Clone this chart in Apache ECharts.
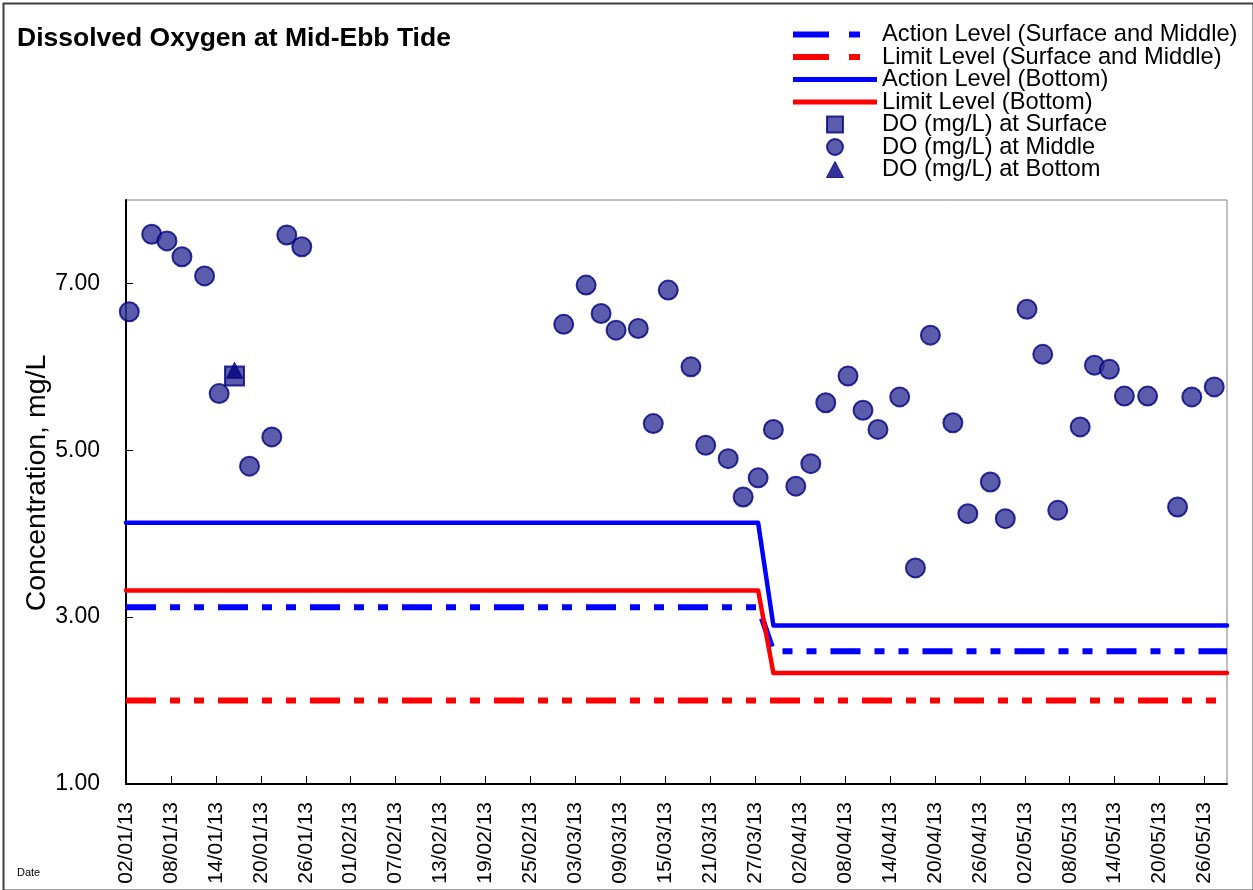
<!DOCTYPE html>
<html>
<head>
<meta charset="utf-8">
<script src="https://cdn.jsdelivr.net/npm/echarts@6/dist/echarts.min.js"></script>
<style>
  html, body { margin: 0; padding: 0; background: #fff; }
  #chart { width: 1253px; height: 890px; }
</style>
</head>
<body>
<div id="chart"></div>
<script>
// Sampling times (dd/mm/yy hh:mm) and dissolved oxygen readings, mg/L
const middleTimes = [
  '02/01/13 10:30', '05/01/13 10:20', '07/01/13 11:15', '09/01/13 11:15', '12/01/13 11:45',
  '14/01/13 10:30', '18/01/13 11:45', '21/01/13 11:15', '23/01/13 11:15', '25/01/13 11:15',
  '01/03/13 10:30', '04/03/13 10:20', '06/03/13 10:20', '08/03/13 10:20', '11/03/13 09:35',
  '13/03/13 09:35', '15/03/13 09:35', '18/03/13 10:20', '20/03/13 09:35', '23/03/13 09:35',
  '25/03/13 09:35', '27/03/13 09:35', '29/03/13 10:30', '01/04/13 10:20', '03/04/13 10:20',
  '05/04/13 10:20', '08/04/13 09:35', '10/04/13 09:35', '12/04/13 09:35', '15/04/13 07:10',
  '17/04/13 09:35', '19/04/13 09:35', '22/04/13 09:35', '24/04/13 09:35', '27/04/13 09:35',
  '29/04/13 09:35', '02/05/13 07:10', '04/05/13 09:35', '06/05/13 09:35', '09/05/13 09:35',
  '11/05/13 07:10', '13/05/13 07:10', '15/05/13 07:10', '18/05/13 09:35', '22/05/13 09:35',
  '24/05/13 07:10', '27/05/13 07:10'
];
const middleDO = [
  6.66, 7.59, 7.51, 7.32, 7.09,
  5.68, 4.81, 5.16, 7.58, 7.44,
  6.51, 6.98, 6.64, 6.44, 6.46,
  5.32, 6.92, 6.00, 5.06, 4.90,
  4.44, 4.67, 5.25, 4.57, 4.84,
  5.57, 5.89, 5.48, 5.25, 5.64,
  3.59, 6.38, 5.33, 4.24, 4.62,
  4.18, 6.69, 6.15, 4.28, 5.28,
  6.02, 5.97, 5.65, 5.65, 4.32,
  5.64, 5.76
];
const surfaceTimes = ['16/01/13 11:45'];
const surfaceDO = [5.89];
const bottomTimes = ['16/01/13 11:45'];
const bottomDO = [5.96];

// Compliance levels; they change between the 27/03 and 29/03 surveys
const levelTimes = ['02/01/13 00:00', '27/03/13 09:35', '29/03/13 10:30', '29/05/13 00:00'];
const actionSurfMid = [3.12, 3.12, 2.59, 2.59];
const limitSurfMid = [2.00, 2.00, 2.00, 2.00];
const actionBottom = [4.13, 4.13, 2.90, 2.90];
const limitBottom = [3.32, 3.32, 2.33, 2.33];

// Axis ticks
const yTicks = [1, 3, 5, 7];
const xTickDays = [0, 6, 12, 18, 24, 30, 36, 42, 48, 54, 60, 66, 72, 78, 84, 90, 96, 102, 108, 114, 120, 126, 132, 138, 144];

const FONT = "'Liberation Sans', Arial, sans-serif";
const DAY_MS = 86400000;
const ORIGIN = Date.UTC(2013, 0, 2);

// 'dd/mm/yy hh:mm' -> days since 02/01/2013
function dayOf(s) {
  const [d, t] = s.split(' ');
  const [dd, mm, yy] = d.split('/').map(Number);
  const [hh, mi] = (t || '00:00').split(':').map(Number);
  return (Date.UTC(2000 + yy, mm - 1, dd, hh, mi) - ORIGIN) / DAY_MS;
}
function fmtDay(v) {
  const dt = new Date(ORIGIN + Math.round(v) * DAY_MS);
  const p = n => String(n).padStart(2, '0');
  return p(dt.getUTCDate()) + '/' + p(dt.getUTCMonth() + 1) + '/' + p(dt.getUTCFullYear() % 100);
}
const pairs = (times, vals) => times.map((t, i) => [dayOf(t), vals[i]]);

const dashDot = [30, 14, 10, 14, 10, 14];
const legendDash = [36, 20, 11, 100];
const markerFill = '#333399';
const markerEdge = '#000080';

// legend entries for the level lines: line sample only, no marker in the middle
const lineEntry = (name, color, width, type) => ({
  name,
  itemStyle: { opacity: 0 },
  lineStyle: { color, width, type, cap: 'butt' }
});
// marker icons kept square inside the wide legend slot (zero-length anchors fix the 84x16 box)
const BOX = 'path://M0,0L0,0M84,16L84,16';
const squareIcon = BOX + 'M34,0h16v16h-16Z';
const triangleIcon = BOX + 'M42,0L50.5,16L33.5,16Z';

const chart = echarts.init(document.getElementById('chart'), null, { renderer: 'canvas' });

chart.setOption({
  backgroundColor: '#ffffff',
  animation: false,
  title: {
    text: 'Dissolved Oxygen at Mid-Ebb Tide',
    left: 17, top: 24, padding: 0,
    textStyle: { fontFamily: FONT, fontSize: 26.5, fontWeight: 'bold', color: '#000', lineHeight: 30 }
  },
  legend: {
    orient: 'vertical',
    left: 790, top: 22.5, padding: 0,
    itemWidth: 84, itemHeight: 16, itemGap: -1.5,
    selectedMode: false,
    textStyle: { fontFamily: FONT, fontSize: 23.7, color: '#000', lineHeight: 22.2 },
    data: [
      lineEntry('Action Level (Surface and Middle)', '#0000ff', 6, legendDash),
      lineEntry('Limit Level (Surface and Middle)', '#ff0000', 6, legendDash),
      lineEntry('Action Level (Bottom)', '#0000ff', 5, 'solid'),
      lineEntry('Limit Level (Bottom)', '#ff0000', 5, 'solid'),
      { name: 'DO (mg/L) at Surface', icon: squareIcon, itemStyle: { color: markerFill, borderColor: markerEdge, borderWidth: 2 } },
      { name: 'DO (mg/L) at Middle', icon: 'circle', itemStyle: { color: markerFill, borderColor: markerEdge, borderWidth: 2 } },
      { name: 'DO (mg/L) at Bottom', icon: triangleIcon, itemStyle: { color: markerEdge, borderColor: markerEdge, borderWidth: 1 } }
    ]
  },
  grid: {
    left: 126, right: 26, top: 200, bottom: 106,
    show: true, borderColor: '#808080', borderWidth: 1, backgroundColor: '#fff'
  },
  xAxis: {
    type: 'value', min: 0, max: 147,
    axisLine: { show: true, onZero: false, lineStyle: { color: '#000', width: 2 } },
    axisTick: { show: true, inside: true, length: 8, lineStyle: { color: '#000', width: 1 }, customValues: xTickDays },
    axisLabel: {
      customValues: xTickDays, rotate: 90, margin: 18,
      fontFamily: FONT, fontSize: 21, color: '#000',
      formatter: v => fmtDay(v)
    },
    splitLine: { show: false }
  },
  yAxis: {
    type: 'value', min: 1, max: 8,
    axisLine: { show: true, lineStyle: { color: '#000', width: 2 } },
    axisTick: { show: true, inside: true, length: 7, lineStyle: { color: '#000', width: 1 }, customValues: yTicks },
    axisLabel: {
      customValues: yTicks, margin: 26,
      fontFamily: FONT, fontSize: 23, color: '#000',
      formatter: v => v.toFixed(2)
    },
    splitLine: { show: false }
  },
  graphic: [
    { type: 'rect', left: 1, top: 1, z: -1, silent: true,
      shape: { width: 1250, height: 887 },
      style: { fill: 'none', stroke: '#404040', lineWidth: 2 } },
    { type: 'text', x: 37, y: 483, rotation: Math.PI / 2, silent: true,
      style: { text: 'Concentration, mg/L', font: '28.5px ' + FONT, fill: '#000', align: 'center', verticalAlign: 'middle' } },
    { type: 'text', x: 17, y: 873, silent: true,
      style: { text: 'Date', font: '11px ' + FONT, fill: '#000', align: 'left', verticalAlign: 'middle' } }
  ],
  series: [
    { name: 'Action Level (Surface and Middle)', type: 'line', symbol: 'none',
      data: pairs(levelTimes, actionSurfMid),
      lineStyle: { color: '#0000ff', width: 6, type: dashDot, cap: 'butt' }, itemStyle: { color: '#0000ff' } },
    { name: 'Limit Level (Surface and Middle)', type: 'line', symbol: 'none',
      data: pairs(levelTimes, limitSurfMid),
      lineStyle: { color: '#ff0000', width: 6, type: dashDot, cap: 'butt' }, itemStyle: { color: '#ff0000' } },
    { name: 'Action Level (Bottom)', type: 'line', symbol: 'none',
      data: pairs(levelTimes, actionBottom),
      lineStyle: { color: '#0000ff', width: 4.5, cap: 'round', join: 'round' }, itemStyle: { color: '#0000ff' } },
    { name: 'Limit Level (Bottom)', type: 'line', symbol: 'none',
      data: pairs(levelTimes, limitBottom),
      lineStyle: { color: '#ff0000', width: 4.5, cap: 'round', join: 'round' }, itemStyle: { color: '#ff0000' } },
    { name: 'DO (mg/L) at Surface', type: 'scatter', symbol: 'rect', symbolSize: 19,
      data: pairs(surfaceTimes, surfaceDO),
      itemStyle: { color: markerFill, borderColor: markerEdge, borderWidth: 2 } },
    { name: 'DO (mg/L) at Middle', type: 'scatter', symbol: 'circle', symbolSize: 19,
      data: pairs(middleTimes, middleDO),
      itemStyle: { color: markerFill, borderColor: markerEdge, borderWidth: 2 } },
    { name: 'DO (mg/L) at Bottom', type: 'scatter', symbol: 'triangle', symbolSize: 16,
      data: pairs(bottomTimes, bottomDO),
      itemStyle: { color: markerEdge, borderColor: markerEdge, borderWidth: 1 } }
  ]
});
</script>
</body>
</html>
